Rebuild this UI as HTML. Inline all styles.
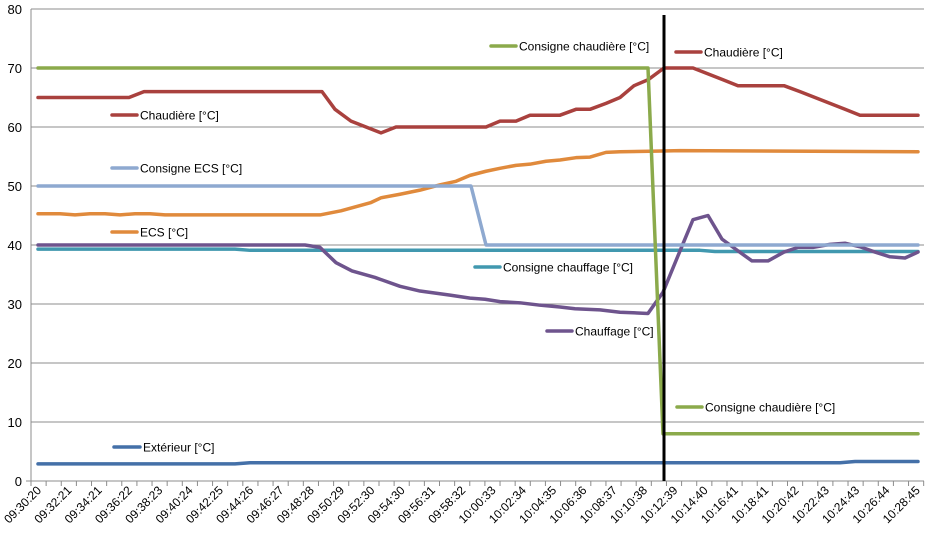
<!DOCTYPE html>
<html><head><meta charset="utf-8"><style>
body{margin:0;background:#fff;}
svg{display:block;font-family:"Liberation Sans",sans-serif;}
</style></head><body>
<svg id="c" width="928" height="541" viewBox="0 0 928 541" xmlns="http://www.w3.org/2000/svg"></svg>
<script>
const s=document.getElementById('c');const NS='http://www.w3.org/2000/svg';
function el(t,a,txt){const e=document.createElementNS(NS,t);for(const k in a)e.setAttribute(k,a[k]);if(txt!=null)e.textContent=txt;s.appendChild(e);return e;}
const Y=v=>481-v*5.9;
// grid
for(let v=0;v<=80;v+=10){if(v>0)el('line',{x1:31,x2:924,y1:Y(v),y2:Y(v),stroke:'#8c8c8c','stroke-width':1});
el('text',{x:22,y:Y(v)+5,'text-anchor':'end','font-size':13,fill:'#000'},String(v));}
el('line',{x1:31,x2:31,y1:9,y2:486,stroke:'#8c8c8c'});
el('line',{x1:26,x2:924,y1:481,y2:481,stroke:'#8c8c8c'});
for(let i=0;i<=59;i++){const x=31+i*15.13;el('line',{x1:x,x2:x,y1:481,y2:486,stroke:'#8c8c8c'});}
const labels=["09:30:20","09:32:21","09:34:21","09:36:22","09:38:23","09:40:24","09:42:25","09:44:26","09:46:27","09:48:28","09:50:29","09:52:30","09:54:30","09:56:31","09:58:32","10:00:33","10:02:34","10:04:35","10:06:36","10:08:37","10:10:38","10:12:39","10:14:40","10:16:41","10:18:41","10:20:42","10:22:43","10:24:43","10:26:44","10:28:45"];
labels.forEach((l,k)=>{const x=38+k*30.3+4,y=491;el('text',{x:x,y:y,'text-anchor':'end','font-size':12,transform:`rotate(-45 ${x} ${y})`},l);});
function line(pts,col){el('polyline',{points:pts.map(p=>p[0]+','+Y(p[1])).join(' '),fill:'none',stroke:col,'stroke-width':3.5,'stroke-linejoin':'round','stroke-linecap':'round'});}
line([[38,2.9],[235,2.9],[250,3.1],[840,3.1],[855,3.3],[918,3.3]],'#4470A8');
line([[38,39.3],[235,39.3],[250,39.1],[700,39.1],[715,38.9],[918,38.9]],'#4198AF');
line([[38,40],[305,40],[320,39.6],[336,37],[352,35.6],[375,34.5],[400,33],[420,32.2],[450,31.5],[470,31],[485,30.8],[500,30.4],[520,30.2],[540,29.8],[560,29.5],[575,29.2],[600,29],[620,28.6],[648,28.4],[663,32],[680,39],[693,44.3],[708,45],[722,41],[738,39],[752,37.3],[768,37.3],[784,38.8],[798,39.6],[813,39.6],[830,40.1],[845,40.3],[860,39.7],[875,38.8],[890,38],[905,37.8],[918,38.8]],'#6E548D');
line([[38,45.3],[60,45.3],[75,45.1],[90,45.3],[105,45.3],[120,45.1],[135,45.3],[150,45.3],[165,45.1],[320,45.1],[341,45.8],[356,46.5],[371,47.2],[381,48],[400,48.6],[420,49.3],[440,50.2],[456,50.8],[470,51.8],[486,52.5],[500,53],[516,53.5],[530,53.7],[546,54.2],[560,54.4],[576,54.8],[590,54.9],[606,55.7],[620,55.8],[650,55.9],[680,56],[918,55.8]],'#E08A3C');
line([[38,50],[471,50],[486,40],[918,40]],'#8EA9D0');
line([[38,65],[129,65],[144,66],[322,66],[335,63],[351,61],[366,60],[381,59],[396,60],[486,60],[500,61],[516,61],[530,62],[560,62],[576,63],[590,63],[606,64],[620,65],[634,67],[648,68],[664,70],[693,70],[708,69],[723,68],[738,67],[784,67],[800,66],[815,65],[830,64],[845,63],[860,62],[918,62]],'#A9413E');
line([[38,70],[648,70],[663,8],[918,8]],'#8BAA4B');
el('line',{x1:664,x2:664,y1:15,y2:481,stroke:'#000','stroke-width':3});
function leg(x1,x2,y,col,t){el('line',{x1:x1,x2:x2,y1:y,y2:y,stroke:col,'stroke-width':3.5,'stroke-linecap':'round'});el('text',{x:x2+3,y:y+4.5,'font-size':12},t);}
leg(112,137,115,'#A9413E','Chaudière [°C]');
leg(112,137,168,'#8EA9D0','Consigne ECS [°C]');
leg(112,137,232,'#E08A3C','ECS [°C]');
leg(114,140,447,'#4470A8','Extérieur [°C]');
leg(491,516,46,'#8BAA4B','Consigne chaudière [°C]');
leg(676,701,52,'#A9413E','Chaudière [°C]');
leg(475,500,267,'#4198AF','Consigne chauffage [°C]');
leg(547,572,331,'#6E548D','Chauffage [°C]');
leg(677,702,407,'#8BAA4B','Consigne chaudière [°C]');
</script>
</body></html>
